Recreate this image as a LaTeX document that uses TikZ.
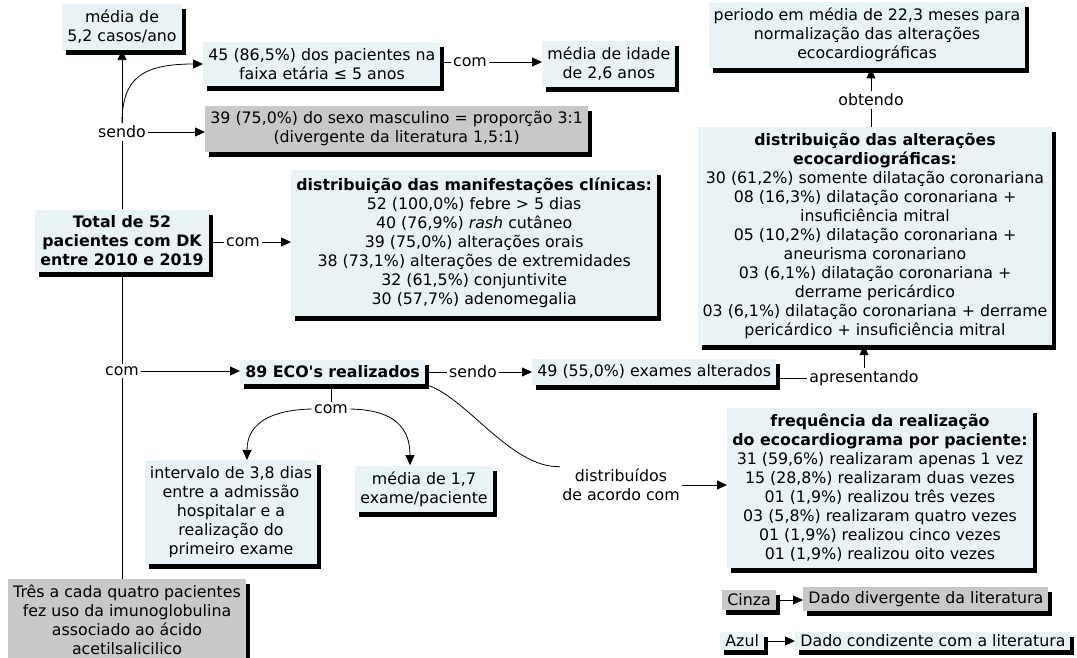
\documentclass[tikz,border=0pt]{standalone}
\usepackage{fontspec}
\setmainfont{DejaVu Sans}
\newfontface\apost{DejaVu Sans Bold}
\usetikzlibrary{arrows.meta,shadows}
\definecolor{azulclaro}{RGB}{233,242,245}
\definecolor{cinzaclaro}{RGB}{200,200,200}
\tikzset{
	conceito/.style={fill=azulclaro, align=center, inner xsep=5pt, inner ysep=6pt,
		font=\fontsize{15.8}{19}\selectfont,
		drop shadow={shadow xshift=4pt, shadow yshift=-5pt, fill=black, opacity=1}},
	divergente/.style={conceito, fill=cinzaclaro},
	ligacao/.style={align=center, inner sep=2pt, font=\fontsize{15.8}{19}\selectfont},
	seta/.style={-{Triangle[length=10pt,width=9pt]}}
}
\begin{document}
\begin{tikzpicture}[x=1pt,y=-1pt,line width=0.8pt]
	\useasboundingbox (0,0) rectangle (1077,658);
	\node[conceito] (media52) at (122,27) {média de\\5,2 casos/ano};
	\node[conceito,anchor=west] (faixa) at (203,64) {45 (86,5\%) dos pacientes na\\faixa etária ≤ 5 anos};
	\node[ligacao] (com1) at (470,62) {com};
	\node[conceito,anchor=west] (idade) at (542,64) {média de idade\\de 2,6 anos};
	\node[divergente,anchor=west] (sexo) at (205,129) {39 (75,0\%) do sexo masculino = proporção 3:1\\(divergente da literatura 1,5:1)};
	\node[ligacao] (sendo1) at (122,132) {sendo};
	\node[conceito,font=\fontsize{15.8}{19}\selectfont\bfseries] (total) at (122,241) {Total de 52\\pacientes com DK\\entre 2010 e 2019};
	\node[ligacao] (com2) at (243,242) {com};
	\node[conceito,anchor=west,inner ysep=8pt] (manif) at (291,243) {\textbf{distribuição das manifestações clínicas:}\\52 (100,0\%) febre > 5 dias\\40 (76,9\%) \textit{rash} cutâneo\\39 (75,0\%) alterações orais\\38 (73,1\%) alterações de extremidades\\32 (61,5\%) conjuntivite\\30 (57,7\%) adenomegalia};
	\node[ligacao] (com3) at (122,371) {com};
	\node[conceito,anchor=west] (eco) at (240,372) {\textbf{89 ECO{\apost'}s realizados}};
	\node[ligacao] (sendo2) at (473,372) {sendo};
	\node[conceito,anchor=west] (exames) at (532,372) {49 (55,0\%) exames alterados};
	\node[ligacao] (apres) at (864,378) {apresentando};
	\node[conceito] (alter) at (875,236) {\textbf{distribuição das alterações}\\\textbf{ecocardiográficas:}\\30 (61,2\%) somente dilatação coronariana\\08 (16,3\%) dilatação coronariana +\\insuficiência mitral\\05 (10,2\%) dilatação coronariana +\\aneurisma coronariano\\03 (6,1\%) dilatação coronariana +\\derrame pericárdico\\03 (6,1\%) dilatação coronariana + derrame\\pericárdico + insuficiência mitral};
	\node[ligacao] (obtendo) at (871,100) {obtendo};
	\node[conceito] (periodo) at (867,35) {periodo em média de 22,3 meses para\\normalização das alterações\\ecocardiográficas};
	\node[ligacao] (com4) at (331,409) {com};
	\node[conceito] (interv) at (231,512) {intervalo de 3,8 dias\\entre a admissão\\hospitalar e a\\realização do\\primeiro exame};
	\node[conceito] (media17) at (424,489) {média de 1,7\\exame/paciente};
	\node[ligacao] (distrib) at (621,485) {distribuídos\\de acordo com};
	\node[conceito,anchor=west] (freq) at (727,488) {\textbf{frequência da realização}\\\textbf{do ecocardiograma por paciente:}\\31 (59,6\%) realizaram apenas 1 vez\\15 (28,8\%) realizaram duas vezes\\01 (1,9\%) realizou três vezes\\03 (5,8\%) realizaram quatro vezes\\01 (1,9\%) realizou cinco vezes\\01 (1,9\%) realizou oito vezes};
	\node[divergente] (tres) at (127,620) {Três a cada quatro pacientes\\fez uso da imunoglobulina\\associado ao ácido\\acetilsalicilico};
	\node[divergente,anchor=west,inner ysep=4pt] (cinza) at (722,600) {Cinza};
	\node[divergente,anchor=west,inner ysep=4pt] (diverg) at (803,599) {Dado divergente da literatura};
	\node[conceito,anchor=west,inner ysep=3pt] (azul) at (720,641) {Azul};
	\node[conceito,anchor=west,inner ysep=3pt] (condiz) at (795,641) {Dado condizente com a literatura};
	\draw (total.north) -- (sendo1.south);
	\draw[seta] (sendo1.north) -- (media52.south);
	\draw[seta] (sendo1.north) .. controls (122,80) and (140,64) .. (faixa.west);
	\draw[seta] (sendo1.east) -- (sendo1.east -| sexo.west);
	\draw (faixa.east |- com1) -- (com1.west);
	\draw[seta] (com1.east) -- (com1.east -| idade.west);
	\draw (total.east |- com2) -- (com2.west);
	\draw[seta] (com2.east) -- (com2.east -| manif.west);
	\draw (total.south) -- (com3.north);
	\draw (com3.south) -- (com3.south |- tres.north);
	\draw[seta] (com3.east) -- (com3.east -| eco.west);
	\draw (eco.east) -- (sendo2.west);
	\draw[seta] (sendo2.east) -- (sendo2.east -| exames.west);
	\draw (exames.east |- apres) -- (apres.west);
	\draw[seta] (apres.north) -- (apres.north |- alter.south);
	\draw (alter.north -| obtendo) -- (obtendo.south);
	\draw[seta] (obtendo.north) -- (obtendo.north |- periodo.south);
	\draw (eco.south -| com4) -- (com4.north);
	\draw[seta] (com4.west) .. controls (268,410) and (247,425) .. ([xshift=16pt]interv.north);
	\draw[seta] (com4.east) .. controls (395,410) and (410,428) .. ([xshift=-14pt]media17.north);
	\draw (eco.south east) .. controls (465,395) and (510,468) .. (distrib.north west);
	\draw[seta] (distrib.east) -- (distrib.east -| freq.west);
	\draw[seta] (cinza.east) -- (cinza.east -| diverg.west);
	\draw[seta] (azul.east) -- (azul.east -| condiz.west);
\end{tikzpicture}
\end{document}
